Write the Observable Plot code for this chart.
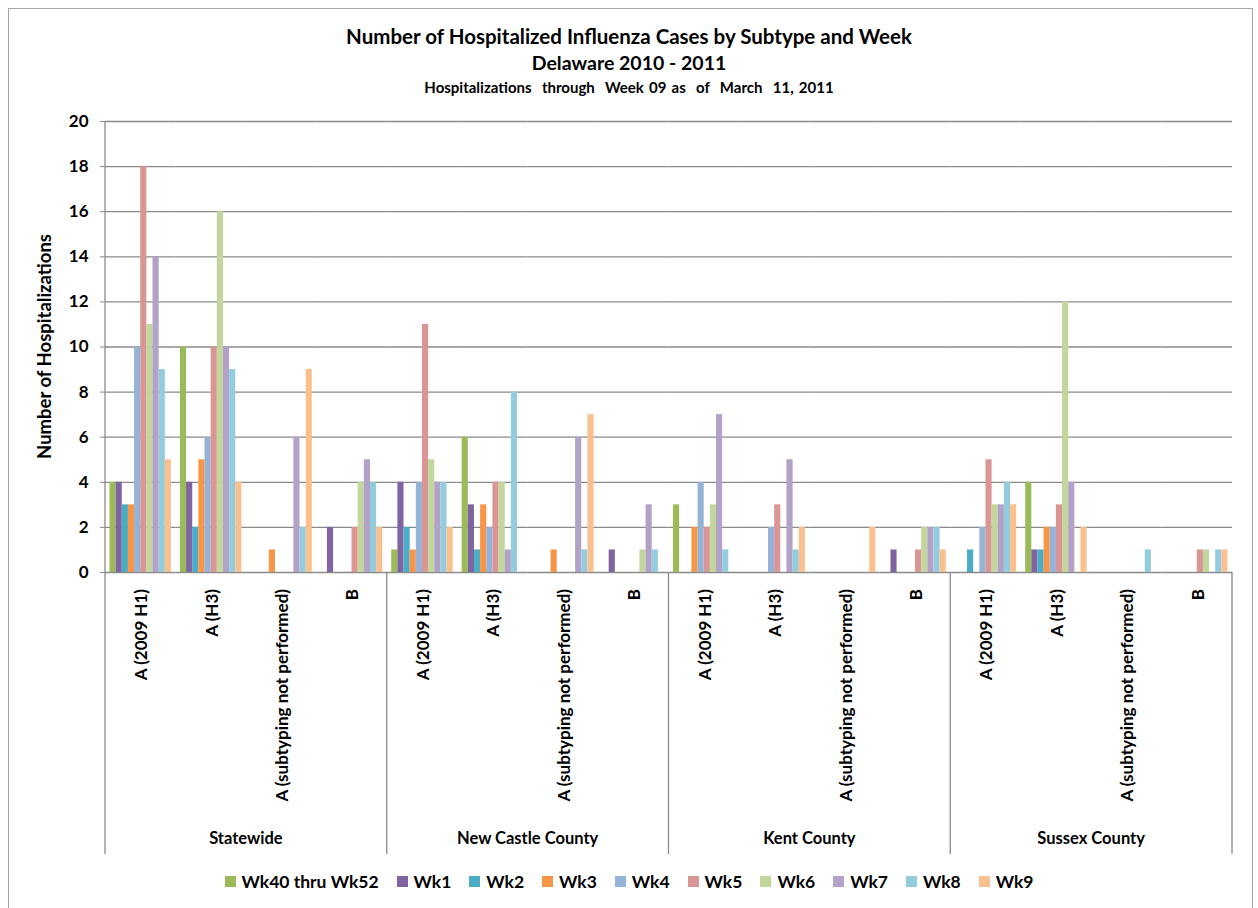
<!DOCTYPE html>
<html>
<head>
<meta charset="utf-8">
<script src="https://cdn.jsdelivr.net/npm/d3@7"></script>
<script src="https://cdn.jsdelivr.net/npm/@observablehq/plot@0.6"></script>
<style>
  html, body { margin: 0; padding: 0; background: #fff; overflow: hidden; }
  body { width: 1258px; height: 908px; position: relative; font-family: Lato, "DejaVu Sans", sans-serif; font-weight: bold; color: #000; }
  #border { position: absolute; left: 8px; top: 8px; width: 1245px; height: 1000px; border: 1.5px solid #a6a6a6; box-sizing: border-box; }
  .t { position: absolute; left: 0; width: 1258px; text-align: center; white-space: nowrap; }
  #t1 { top: 24px; font-size: 20.5px; }
  #t2 { top: 51px; font-size: 19.5px; }
  #t3 { top: 78px; font-size: 15px; word-spacing: 1.5px; }
  #chart { position: absolute; left: 0; top: 100px; }
  #legend { position: absolute; left: 0; top: 871px; width: 1258px; display: flex; justify-content: center; font-size: 17.5px; }
  #legend .item { display: flex; align-items: center; margin: 0 9px; }
  #legend .sw { width: 11px; height: 11px; margin-right: 6px; }
</style>
</head>
<body>
<div id="border"></div>
<div class="t" id="t1">Number of Hospitalized Influenza Cases by Subtype and Week</div>
<div class="t" id="t2">Delaware 2010 - 2011</div>
<div class="t" id="t3">Hospitalizations&nbsp; through&nbsp; Week 09 as&nbsp; of&nbsp; March&nbsp; 11, 2011</div>
<div id="chart"></div>
<div id="legend"></div>
<script>
// ---- data ----
const regions = ["Statewide", "New Castle County", "Kent County", "Sussex County"];
const subtypes = ["A (2009 H1)", "A (H3)", "A (subtyping not performed)", "B"];
const weeks = ["Wk40 thru Wk52", "Wk1", "Wk2", "Wk3", "Wk4", "Wk5", "Wk6", "Wk7", "Wk8", "Wk9"];
const weekColors = ["#9BBB59", "#8064A2", "#4BACC6", "#F79646", "#95B3D7", "#D99694", "#C3D69B", "#B2A2C7", "#93CDDD", "#FAC090"];
const yTicks = [0, 2, 4, 6, 8, 10, 12, 14, 16, 18, 20];

// rows: subtypes, columns: weeks
const statewide = [
  [4, 4, 3, 3, 10, 18, 11, 14, 9, 5],
  [10, 4, 2, 5, 6, 10, 16, 10, 9, 4],
  [0, 0, 0, 1, 0, 0, 0, 6, 2, 9],
  [0, 2, 0, 0, 0, 2, 4, 5, 4, 2]
];
const newCastle = [
  [1, 4, 2, 1, 4, 11, 5, 4, 4, 2],
  [6, 3, 1, 3, 2, 4, 4, 1, 8, 0],
  [0, 0, 0, 1, 0, 0, 0, 6, 1, 7],
  [0, 1, 0, 0, 0, 0, 1, 3, 1, 0]
];
const kent = [
  [3, 0, 0, 2, 4, 2, 3, 7, 1, 0],
  [0, 0, 0, 0, 2, 3, 0, 5, 1, 2],
  [0, 0, 0, 0, 0, 0, 0, 0, 0, 2],
  [0, 1, 0, 0, 0, 1, 2, 2, 2, 1]
];
const sussex = [
  [0, 0, 1, 0, 2, 5, 3, 3, 4, 3],
  [4, 1, 1, 2, 2, 3, 12, 4, 0, 2],
  [0, 0, 0, 0, 0, 0, 0, 0, 1, 0],
  [0, 0, 0, 0, 0, 1, 1, 0, 1, 1]
];
const regionValues = [statewide, newCastle, kent, sussex];

// ---- build table ----
const key = (r, s) => r + "|" + s;
const groupKeys = [];
regions.forEach(r => subtypes.forEach(s => groupKeys.push(key(r, s))));
const data = [];
regions.forEach((r, ri) => subtypes.forEach((s, si) => weeks.forEach((w, wi) => {
  data.push({group: key(r, s), region: r, subtype: s, week: w, value: regionValues[ri][si][wi]});
})));

const gridColor = "#8a8a8a";
const FONT = "Lato, 'DejaVu Sans', sans-serif";

const chart = Plot.plot({
  width: 1258,
  height: 765,
  marginLeft: 105,
  marginRight: 26,
  marginTop: 21,
  marginBottom: 293,
  style: {fontFamily: FONT, fontSize: "17px", fontWeight: "bold", color: "#000", background: "transparent", overflow: "visible"},
  fx: {domain: groupKeys, padding: 0, round: false, axis: null},
  x: {domain: weeks, paddingInner: 0, paddingOuter: 0.73, round: false, axis: null},
  y: {domain: [0, 20]},
  color: {domain: weeks, range: weekColors},
  marks: [
    Plot.ruleY(yTicks, {stroke: gridColor, strokeWidth: 1.3}),
    Plot.barY(data, {fx: "group", x: "week", y: "value", fill: "week", inset: 0}),
    Plot.axisY(yTicks, {tickSize: 5, tickPadding: 12, stroke: gridColor, fill: "#000", label: null, fontSize: 17, fontWeight: "bold"})
  ]
});
document.getElementById("chart").appendChild(chart);

// ---- category axis (multi-level) drawn from the plot's own scales ----
const fx = chart.scale("fx");
const ys = chart.scale("y");
const bw = fx.bandwidth;
const y0 = ys.apply(0), yTop = ys.apply(20);
const svg = d3.select(chart);
const g = svg.append("g").attr("font-family", FONT).attr("font-weight", "bold").attr("fill", "#000");

// y axis line
const xLeft = fx.apply(groupKeys[0]);
g.append("line").attr("x1", xLeft).attr("x2", xLeft).attr("y1", yTop).attr("y2", y0)
  .attr("stroke", gridColor).attr("stroke-width", 1.3);

// region separators
const sepX = regions.map(r => fx.apply(key(r, subtypes[0])));
sepX.push(fx.apply(groupKeys[groupKeys.length - 1]) + bw);
sepX.forEach(x => g.append("line").attr("x1", x).attr("x2", x).attr("y1", y0).attr("y2", y0 + 282)
  .attr("stroke", gridColor).attr("stroke-width", 1.3));

// subtype labels (rotated)
groupKeys.forEach(k => {
  const s = k.split("|")[1];
  const cx = fx.apply(k) + bw / 2;
  g.append("text").attr("transform", `translate(${cx + 1},${y0 + 17}) rotate(-90)`)
    .attr("text-anchor", "end").attr("dy", "0.35em").attr("font-size", 17).text(s);
});

// region labels
regions.forEach(r => {
  const cx = fx.apply(key(r, subtypes[0])) + 2 * bw;
  g.append("text").attr("x", cx).attr("y", y0 + 272).attr("text-anchor", "middle").attr("font-size", 16.5).text(r);
});

// y axis title
g.append("text").attr("transform", `translate(45,${ys.apply(10)}) rotate(-90)`)
  .attr("text-anchor", "middle").attr("dy", "0.35em").attr("font-size", 18.5).text("Number of Hospitalizations");

// ---- legend ----
const legend = d3.select("#legend");
weeks.forEach((w, i) => {
  const it = legend.append("div").attr("class", "item");
  it.append("div").attr("class", "sw").style("background", weekColors[i]);
  it.append("span").text(w);
});
</script>
</body>
</html>
